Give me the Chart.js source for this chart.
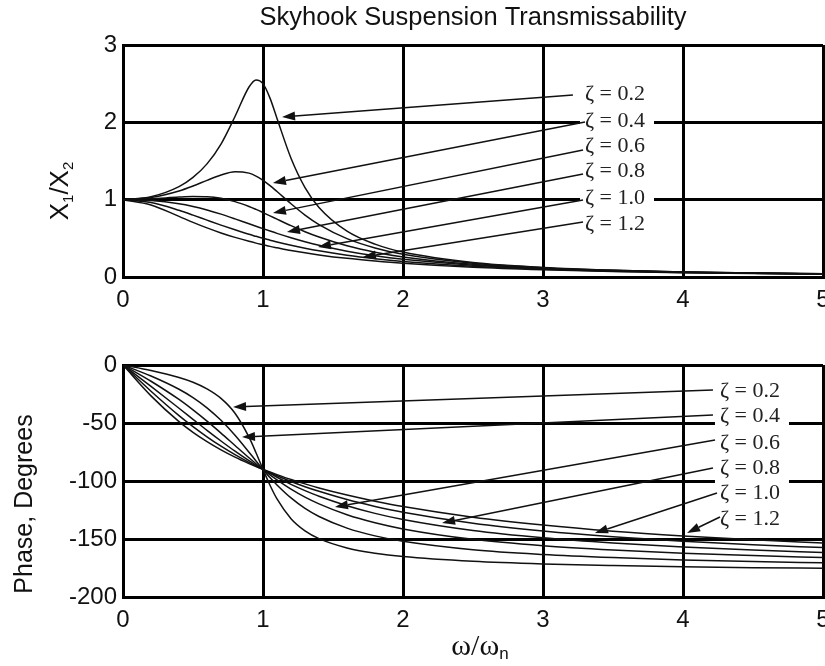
<!DOCTYPE html>
<html>
<head>
<meta charset="utf-8">
<script src="https://cdn.jsdelivr.net/npm/chart.js@4"></script>
<style>
  body { margin: 0; background: #fff; overflow: hidden; width: 825px; height: 666px; position: relative; }
  canvas { position: absolute; left: 0; }
</style>
</head>
<body>
<canvas id="ampChart" width="850" height="320" style="top:0"></canvas>
<canvas id="phaseChart" width="850" height="346" style="top:320px"></canvas>
<script>
// Data

const ratio = [0, 0.2, 0.4, 0.5, 0.6, 0.7, 0.8, 0.9, 0.95, 1.0, 1.05, 1.1, 1.2, 1.3, 1.4, 1.6, 1.8, 2.0, 2.5, 3.0, 3.5, 4.0, 4.5, 5.0];
const zetaLabels = ["ζ = 0.2", "ζ = 0.4", "ζ = 0.6", "ζ = 0.8", "ζ = 1.0", "ζ = 1.2"];

const amp02 = [1, 1.038, 1.169, 1.288, 1.463, 1.719, 2.076, 2.457, 2.549, 2.5, 2.313, 2.051, 1.536, 1.157, 0.9, 0.593, 0.425, 0.322, 0.187, 0.124, 0.088, 0.066, 0.052, 0.042];
const amp04 = [1, 1.027, 1.112, 1.176, 1.25, 1.32, 1.362, 1.343, 1.305, 1.25, 1.182, 1.105, 0.947, 0.801, 0.678, 0.496, 0.376, 0.294, 0.178, 0.12, 0.086, 0.065, 0.051, 0.041];
const amp06 = [1, 1.011, 1.034, 1.041, 1.038, 1.018, 0.975, 0.912, 0.874, 0.833, 0.791, 0.748, 0.664, 0.586, 0.517, 0.404, 0.321, 0.26, 0.165, 0.114, 0.083, 0.063, 0.05, 0.04];
const amp08 = [1, 0.988, 0.947, 0.912, 0.867, 0.813, 0.752, 0.688, 0.657, 0.625, 0.594, 0.564, 0.508, 0.456, 0.41, 0.334, 0.274, 0.228, 0.152, 0.107, 0.08, 0.061, 0.049, 0.04];
const amp10 = [1, 0.962, 0.862, 0.8, 0.735, 0.671, 0.61, 0.552, 0.526, 0.5, 0.476, 0.452, 0.41, 0.372, 0.338, 0.281, 0.236, 0.2, 0.138, 0.1, 0.075, 0.059, 0.047, 0.038];
const amp12 = [1, 0.932, 0.784, 0.707, 0.635, 0.57, 0.512, 0.461, 0.438, 0.417, 0.396, 0.378, 0.343, 0.313, 0.286, 0.241, 0.206, 0.177, 0.125, 0.093, 0.071, 0.056, 0.045, 0.037];

const ph02 = [0, -4.8, -10.8, -14.9, -20.6, -28.8, -41.6, -62.2, -75.6, -90, -103.7, -115.5, -132.5, -143.0, -149.7, -157.7, -162.2, -165.1, -169.2, -171.5, -172.9, -173.9, -174.7, -175.2];
const ph04 = [0, -9.5, -20.9, -28.1, -36.9, -47.7, -60.6, -75.2, -82.7, -90, -97.0, -103.4, -114.6, -123.6, -130.6, -140.6, -147.3, -151.9, -159.2, -163.3, -166.0, -168.0, -169.4, -170.5];
const ph06 = [0, -14.0, -29.7, -38.7, -48.4, -58.7, -69.4, -80.0, -85.1, -90, -94.7, -99.0, -107.0, -113.9, -119.7, -129.1, -136.0, -141.3, -150.3, -155.8, -159.5, -162.3, -164.3, -166.0];
const ph08 = [0, -18.4, -37.3, -46.8, -56.3, -65.5, -74.3, -82.5, -86.3, -90, -93.5, -96.8, -102.9, -108.3, -113.2, -121.3, -127.9, -133.2, -142.7, -149.0, -153.5, -156.9, -159.5, -161.6];
const ph10 = [0, -22.6, -43.6, -53.1, -61.9, -70.0, -77.3, -84.0, -87.1, -90, -92.8, -95.5, -100.4, -104.9, -108.9, -116.0, -121.9, -126.9, -136.4, -143.1, -148.1, -151.9, -154.9, -157.4];
const ph12 = [0, -26.6, -48.8, -58.0, -66.0, -73.1, -79.4, -85.0, -87.6, -90, -92.3, -94.5, -98.7, -102.5, -106.0, -112.1, -117.4, -122.0, -131.2, -138.0, -143.3, -147.4, -150.7, -153.4];

// label anchors and arrows, in data units
const ampLabelY = [2.379, 2.03, 1.707, 1.384, 1.035, 0.698];
const ampArrowFrom = [[3.214, 2.354], [3.3, 2.004], [3.286, 1.642], [3.286, 1.332], [3.286, 0.996], [3.286, 0.711]];
const ampArrowTo = [[1.136, 2.069], [1.071, 1.216], [1.071, 0.828], [1.171, 0.582], [1.393, 0.388], [1.714, 0.259]];

const phLabelY = [-21.6, -43.1, -66.4, -87.9, -109.5, -131.9];
const phArrowFrom = [[4.214, -21.6], [4.214, -43.1], [4.229, -64.7], [4.214, -88.8], [4.243, -110.3], [4.264, -131.0]];
const phArrowTo = [[0.786, -36.2], [0.85, -62.1], [1.514, -122.4], [2.279, -136.2], [3.371, -144.8], [4.029, -144.8]];

const SANS = "'Liberation Sans', Arial, sans-serif";
const SERIF = "'Liberation Serif', 'Times New Roman', serif";
const INK = "#111";

function toPoints(values) {
  return ratio.map((r, i) => ({ x: r, y: values[i] }));
}

function makeDatasets(series) {
  return series.map((s) => ({
    data: toPoints(s),
    borderColor: INK,
    borderWidth: 1.5,
    pointRadius: 0,
    fill: false,
    cubicInterpolationMode: "monotone",
  }));
}

function xScale(height) {
  return {
    type: "linear",
    min: 0,
    max: 5,
    afterFit: (s) => { s.height = height; },
    grid: { color: "#000", lineWidth: 3, drawTicks: false },
    border: { color: "#000", width: 3 },
    ticks: { stepSize: 1, padding: 9, color: INK, maxRotation: 0, autoSkip: false, font: { family: SANS, size: 24 } },
  };
}

function yScale(min, max, step) {
  return {
    min: min,
    max: max,
    afterFit: (s) => { s.width = 123; },
    grid: { color: "#000", lineWidth: 3, drawTicks: false },
    border: { color: "#000", width: 3 },
    ticks: { stepSize: step, padding: 6, color: INK, font: { family: SANS, size: 24 } },
  };
}

function drawArrow(ctx, x0, y0, x1, y1) {
  const a = Math.atan2(y1 - y0, x1 - x0);
  const L = 13, W = 4.5;
  const bx = x1 - L * Math.cos(a), by = y1 - L * Math.sin(a);
  ctx.beginPath();
  ctx.moveTo(x0, y0);
  ctx.lineTo(bx, by);
  ctx.stroke();
  ctx.beginPath();
  ctx.moveTo(x1, y1);
  ctx.lineTo(bx - W * Math.sin(a), by + W * Math.cos(a));
  ctx.lineTo(bx + W * Math.sin(a), by - W * Math.cos(a));
  ctx.closePath();
  ctx.fill();
}

// pieces: [text, font, baseline shift]
function drawPieces(ctx, pieces, cx, baseY) {
  let total = 0;
  pieces.forEach((p) => { ctx.font = p[1]; total += ctx.measureText(p[0]).width; });
  let x = cx - total / 2;
  pieces.forEach((p) => {
    ctx.font = p[1];
    ctx.fillText(p[0], x, baseY + p[2]);
    x += ctx.measureText(p[0]).width;
  });
}

function decor(opts) {
  return {
    id: "decor",
    afterDatasetsDraw(chart) {
      const ctx = chart.ctx;
      const xs = chart.scales.x, ys = chart.scales.y;
      ctx.save();
      ctx.font = "22px " + SERIF;
      ctx.textBaseline = "middle";
      ctx.textAlign = "left";
      const left = xs.getPixelForValue(opts.labelX);
      opts.labelY.forEach((v, i) => {
        const w = ctx.measureText(zetaLabels[i]).width;
        ctx.fillStyle = "#fff";
        ctx.fillRect(left - 5, ys.getPixelForValue(v) - 13, w + 14, 26);
      });
      ctx.strokeStyle = INK;
      ctx.fillStyle = INK;
      ctx.lineWidth = 1.5;
      opts.from.forEach((f, i) => {
        const t = opts.to[i];
        drawArrow(ctx, xs.getPixelForValue(f[0]), ys.getPixelForValue(f[1]),
          xs.getPixelForValue(t[0]), ys.getPixelForValue(t[1]));
      });
      ctx.fillStyle = "#222";
      opts.labelY.forEach((v, i) => {
        ctx.fillText(zetaLabels[i], left, ys.getPixelForValue(v) + 1);
      });
      ctx.restore();
    },
    afterDraw(chart) {
      const ctx = chart.ctx;
      const area = chart.chartArea;
      ctx.save();
      ctx.fillStyle = INK;
      ctx.textBaseline = "alphabetic";
      ctx.textAlign = "left";
      if (opts.yTitle === "amp") {
        ctx.translate(area.left - 55, (area.top + area.bottom) / 2 + 30);
        ctx.rotate(-Math.PI / 2);
        const big = "26px " + SANS, small = "15px " + SANS;
        drawPieces(ctx, [["X", big, 0], ["1", small, 5], ["/", big, 0], ["X", big, 0], ["2", small, 5]], 0, 0);
      } else {
        ctx.translate(area.left - 91, (area.top + area.bottom) / 2 + 23);
        ctx.rotate(-Math.PI / 2);
        drawPieces(ctx, [["Phase, Degrees", "25px " + SANS, 0]], 0, 0);
        ctx.setTransform(1, 0, 0, 1, 0, 0);
        drawPieces(ctx, [["ω/ω", "30px " + SERIF, 0], ["n", "17px " + SANS, 4]], (area.left + area.right) / 2 + 7, area.bottom + 58);
      }
      ctx.restore();
    },
  };
}

Chart.defaults.font.family = SANS;

new Chart(document.getElementById("ampChart"), {
  type: "line",
  data: { datasets: makeDatasets([amp02, amp04, amp06, amp08, amp10, amp12]) },
  options: {
    responsive: false,
    animation: false,
    events: [],
    layout: { padding: { top: 0, right: 27, left: 0, bottom: 0 } },
    scales: { x: xScale(43), y: yScale(0, 3, 1) },
    plugins: {
      legend: { display: false },
      tooltip: { enabled: false },
      title: {
        display: true,
        fullSize: false,
        text: "Skyhook Suspension Transmissability",
        color: INK,
        font: { family: SANS, size: 25.5, weight: "normal", lineHeight: 1.2 },
        padding: { top: 3, bottom: 11.4 },
      },
    },
  },
  plugins: [decor({ labelX: 3.3, labelY: ampLabelY, from: ampArrowFrom, to: ampArrowTo, yTitle: "amp" })],
});

new Chart(document.getElementById("phaseChart"), {
  type: "line",
  data: { datasets: makeDatasets([ph02, ph04, ph06, ph08, ph10, ph12]) },
  options: {
    responsive: false,
    animation: false,
    events: [],
    layout: { padding: { top: 45, right: 27, left: 0, bottom: 0 } },
    scales: { x: xScale(69), y: yScale(-200, 0, 50) },
    plugins: {
      legend: { display: false },
      tooltip: { enabled: false },
    },
  },
  plugins: [decor({ labelX: 4.264, labelY: phLabelY, from: phArrowFrom, to: phArrowTo, yTitle: "phase" })],
});
</script>
</body>
</html>
